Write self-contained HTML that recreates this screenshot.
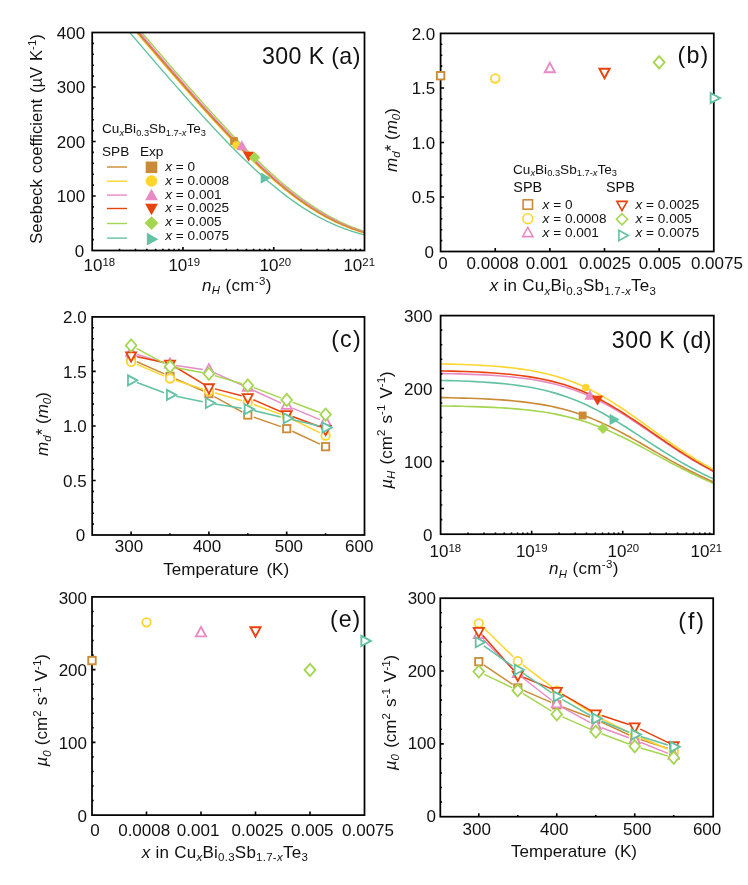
<!DOCTYPE html>
<html lang="en"><head><meta charset="utf-8"><title>Figure</title>
<style>html,body{margin:0;padding:0;background:#fff}svg{display:block}</style></head>
<body>
<svg width="748" height="885" viewBox="0 0 748 885" font-family='"Liberation Sans", sans-serif' fill="#111">
<rect width="748" height="885" fill="#fff"/>
<clipPath id="ca"><rect x="92.2" y="32.5" width="272.3" height="218"/></clipPath>
<g clip-path="url(#ca)" fill="none" stroke-width="1.35">
<polyline stroke="#62C2A3" points="100.58,-1.89 107.04,5.76 113.5,13.38 119.94,20.97 126.36,28.53 132.76,36.04 139.14,43.51 145.49,50.93 151.81,58.29 158.1,65.58 164.34,72.78 170.54,79.9 176.68,86.91 182.76,93.81 188.78,100.58 194.71,107.2 200.56,113.67 206.32,119.97 211.97,126.08 217.51,131.99 222.93,137.7 228.21,143.18 233.37,148.44 238.38,153.47 243.24,158.26 247.95,162.82 252.51,167.14 256.92,171.22 261.17,175.08 265.27,178.71 269.22,182.14 273.02,185.35 276.68,188.37 280.2,191.2 283.59,193.86 286.85,196.35 289.98,198.69 293,200.87 295.91,202.92 298.71,204.85 301.41,206.65 304.01,208.34 306.52,209.93 308.95,211.43 311.29,212.83 313.56,214.15 315.75,215.4 317.87,216.57 319.93,217.68 321.92,218.72 323.85,219.71 325.73,220.64 327.55,221.52 329.33,222.36 331.05,223.15 332.73,223.91 334.36,224.62 335.96,225.3 337.51,225.95 339.02,226.57 340.5,227.15 341.94,227.71 343.35,228.25 344.73,228.76 346.08,229.25 347.39,229.72 348.68,230.17 349.95,230.6 351.18,231.01 352.4,231.41 353.58,231.79 354.75,232.16 355.89,232.51 357.01,232.85 358.11,233.18 359.2,233.49 360.26,233.8 361.3,234.09 362.33,234.37 363.33,234.65 364.33,234.91 365.3,235.17 366.26,235.42 367.2,235.66 368.13,235.89 369.05,236.11 369.95,236.33 370.84,236.54 371.71,236.75 372.58,236.95 373.43,237.14 374.26,237.33 375.09,237.52 375.9,237.69 376.71,237.87 377.5,238.04 378.28,238.2 379.06,238.36 379.82,238.52 380.57,238.67 381.32,238.82 382.05,238.96 382.78,239.1 383.49,239.24 384.2,239.38 384.9,239.51 385.59,239.64 386.28,239.76 386.95,239.88 387.62,240 388.28,240.12 388.93,240.23 389.58,240.35 390.22,240.46 390.85,240.56 391.48,240.67 392.1,240.77 392.71,240.87 393.32,240.97 393.92,241.07"/>
<polyline stroke="#A5D651" points="112.63,-1.89 119.1,5.76 125.55,13.38 131.99,20.97 138.41,28.53 144.82,36.04 151.19,43.51 157.55,50.93 163.87,58.29 170.15,65.58 176.4,72.78 182.59,79.9 188.74,86.91 194.82,93.81 200.83,100.58 206.77,107.2 212.62,113.67 218.37,119.97 224.02,126.08 229.56,131.99 234.98,137.7 240.27,143.18 245.42,148.44 250.43,153.47 255.3,158.26 260.01,162.82 264.57,167.14 268.98,171.22 273.23,175.08 277.33,178.71 281.28,182.14 285.08,185.35 288.74,188.37 292.26,191.2 295.65,193.86 298.9,196.35 302.04,198.69 305.06,200.87 307.96,202.92 310.76,204.85 313.46,206.65 316.07,208.34 318.58,209.93 321,211.43 323.35,212.83 325.61,214.15 327.8,215.4 329.93,216.57 331.98,217.68 333.97,218.72 335.91,219.71 337.79,220.64 339.61,221.52 341.38,222.36 343.11,223.15 344.78,223.91 346.42,224.62 348.01,225.3 349.56,225.95 351.08,226.57 352.55,227.15 354,227.71 355.41,228.25 356.78,228.76 358.13,229.25 359.45,229.72 360.74,230.17 362,230.6 363.24,231.01 364.45,231.41 365.64,231.79 366.8,232.16 367.95,232.51 369.07,232.85 370.17,233.18 371.25,233.49 372.31,233.8 373.36,234.09 374.38,234.37 375.39,234.65 376.38,234.91 377.36,235.17 378.32,235.42 379.26,235.66 380.19,235.89 381.1,236.11 382.01,236.33 382.89,236.54 383.77,236.75 384.63,236.95 385.48,237.14 386.32,237.33 387.15,237.52 387.96,237.69 388.76,237.87 389.56,238.04 390.34,238.2 391.11,238.36 391.88,238.52 392.63,238.67 393.37,238.82 394.11,238.96"/>
<polyline stroke="#E8420D" points="109.56,-1.89 116.02,5.76 122.48,13.38 128.91,20.97 135.34,28.53 141.74,36.04 148.12,43.51 154.47,50.93 160.79,58.29 167.08,65.58 173.32,72.78 179.52,79.9 185.66,86.91 191.74,93.81 197.75,100.58 203.69,107.2 209.54,113.67 215.29,119.97 220.95,126.08 226.48,131.99 231.9,137.7 237.19,143.18 242.34,148.44 247.36,153.47 252.22,158.26 256.93,162.82 261.49,167.14 265.9,171.22 270.15,175.08 274.25,178.71 278.2,182.14 282,185.35 285.66,188.37 289.18,191.2 292.57,193.86 295.83,196.35 298.96,198.69 301.98,200.87 304.89,202.92 307.69,204.85 310.39,206.65 312.99,208.34 315.5,209.93 317.93,211.43 320.27,212.83 322.53,214.15 324.73,215.4 326.85,216.57 328.9,217.68 330.9,218.72 332.83,219.71 334.71,220.64 336.53,221.52 338.3,222.36 340.03,223.15 341.71,223.91 343.34,224.62 344.93,225.3 346.49,225.95 348,226.57 349.48,227.15 350.92,227.71 352.33,228.25 353.71,228.76 355.05,229.25 356.37,229.72 357.66,230.17 358.92,230.6 360.16,231.01 361.37,231.41 362.56,231.79 363.73,232.16 364.87,232.51 365.99,232.85 367.09,233.18 368.17,233.49 369.23,233.8 370.28,234.09 371.3,234.37 372.31,234.65 373.3,234.91 374.28,235.17 375.24,235.42 376.18,235.66 377.11,235.89 378.03,236.11 378.93,236.33 379.82,236.54 380.69,236.75 381.55,236.95 382.4,237.14 383.24,237.33 384.07,237.52 384.88,237.69 385.69,237.87 386.48,238.04 387.26,238.2 388.03,238.36 388.8,238.52 389.55,238.67 390.29,238.82 391.03,238.96 391.75,239.1 392.47,239.24 393.18,239.38 393.88,239.51"/>
<polyline stroke="#E88BC4" points="110.45,-1.89 116.91,5.76 123.37,13.38 129.8,20.97 136.23,28.53 142.63,36.04 149.01,43.51 155.36,50.93 161.68,58.29 167.97,65.58 174.21,72.78 180.41,79.9 186.55,86.91 192.63,93.81 198.64,100.58 204.58,107.2 210.43,113.67 216.19,119.97 221.84,126.08 227.38,131.99 232.79,137.7 238.08,143.18 243.24,148.44 248.25,153.47 253.11,158.26 257.82,162.82 262.38,167.14 266.79,171.22 271.04,175.08 275.14,178.71 279.09,182.14 282.89,185.35 286.55,188.37 290.07,191.2 293.46,193.86 296.72,196.35 299.85,198.69 302.87,200.87 305.78,202.92 308.58,204.85 311.28,206.65 313.88,208.34 316.39,209.93 318.82,211.43 321.16,212.83 323.42,214.15 325.62,215.4 327.74,216.57 329.79,217.68 331.79,218.72 333.72,219.71 335.6,220.64 337.42,221.52 339.2,222.36 340.92,223.15 342.6,223.91 344.23,224.62 345.82,225.3 347.38,225.95 348.89,226.57 350.37,227.15 351.81,227.71 353.22,228.25 354.6,228.76 355.94,229.25 357.26,229.72 358.55,230.17 359.82,230.6 361.05,231.01 362.26,231.41 363.45,231.79 364.62,232.16 365.76,232.51 366.88,232.85 367.98,233.18 369.06,233.49 370.13,233.8 371.17,234.09 372.19,234.37 373.2,234.65 374.19,234.91 375.17,235.17 376.13,235.42 377.07,235.66 378,235.89 378.92,236.11 379.82,236.33 380.71,236.54 381.58,236.75 382.44,236.95 383.29,237.14 384.13,237.33 384.96,237.52 385.77,237.69 386.58,237.87 387.37,238.04 388.15,238.2 388.93,238.36 389.69,238.52 390.44,238.67 391.18,238.82 391.92,238.96 392.64,239.1 393.36,239.24 394.07,239.38"/>
<polyline stroke="#FFD52E" points="107.36,-1.89 113.83,5.76 120.28,13.38 126.72,20.97 133.14,28.53 139.54,36.04 145.92,43.51 152.27,50.93 158.6,58.29 164.88,65.58 171.13,72.78 177.32,79.9 183.46,86.91 189.55,93.81 195.56,100.58 201.5,107.2 207.34,113.67 213.1,119.97 218.75,126.08 224.29,131.99 229.71,137.7 235,143.18 240.15,148.44 245.16,153.47 250.02,158.26 254.74,162.82 259.3,167.14 263.7,171.22 267.96,175.08 272.05,178.71 276,182.14 279.81,185.35 283.47,188.37 286.99,191.2 290.37,193.86 293.63,196.35 296.77,198.69 299.79,200.87 302.69,202.92 305.49,204.85 308.19,206.65 310.79,208.34 313.31,209.93 315.73,211.43 318.07,212.83 320.34,214.15 322.53,215.4 324.65,216.57 326.71,217.68 328.7,218.72 330.64,219.71 332.51,220.64 334.34,221.52 336.11,222.36 337.83,223.15 339.51,223.91 341.15,224.62 342.74,225.3 344.29,225.95 345.81,226.57 347.28,227.15 348.73,227.71 350.14,228.25 351.51,228.76 352.86,229.25 354.18,229.72 355.47,230.17 356.73,230.6 357.97,231.01 359.18,231.41 360.37,231.79 361.53,232.16 362.68,232.51 363.8,232.85 364.9,233.18 365.98,233.49 367.04,233.8 368.08,234.09 369.11,234.37 370.12,234.65 371.11,234.91 372.08,235.17 373.04,235.42 373.99,235.66 374.92,235.89 375.83,236.11 376.73,236.33 377.62,236.54 378.5,236.75 379.36,236.95 380.21,237.14 381.05,237.33 381.87,237.52 382.69,237.69 383.49,237.87 384.29,238.04 385.07,238.2 385.84,238.36 386.6,238.52 387.36,238.67 388.1,238.82 388.83,238.96 389.56,239.1 390.28,239.24 390.98,239.38 391.68,239.51 392.37,239.64 393.06,239.76 393.73,239.88 394.4,240"/>
<polyline stroke="#CB8B36" points="108.29,-1.89 114.75,5.76 121.21,13.38 127.64,20.97 134.07,28.53 140.47,36.04 146.85,43.51 153.2,50.93 159.52,58.29 165.81,65.58 172.05,72.78 178.25,79.9 184.39,86.91 190.47,93.81 196.48,100.58 202.42,107.2 208.27,113.67 214.02,119.97 219.68,126.08 225.21,131.99 230.63,137.7 235.92,143.18 241.07,148.44 246.08,153.47 250.95,158.26 255.66,162.82 260.22,167.14 264.63,171.22 268.88,175.08 272.98,178.71 276.93,182.14 280.73,185.35 284.39,188.37 287.91,191.2 291.3,193.86 294.56,196.35 297.69,198.69 300.71,200.87 303.62,202.92 306.42,204.85 309.12,206.65 311.72,208.34 314.23,209.93 316.65,211.43 319,212.83 321.26,214.15 323.46,215.4 325.58,216.57 327.63,217.68 329.63,218.72 331.56,219.71 333.44,220.64 335.26,221.52 337.03,222.36 338.76,223.15 340.44,223.91 342.07,224.62 343.66,225.3 345.22,225.95 346.73,226.57 348.21,227.15 349.65,227.71 351.06,228.25 352.44,228.76 353.78,229.25 355.1,229.72 356.39,230.17 357.65,230.6 358.89,231.01 360.1,231.41 361.29,231.79 362.46,232.16 363.6,232.51 364.72,232.85 365.82,233.18 366.9,233.49 367.96,233.8 369.01,234.09 370.03,234.37 371.04,234.65 372.03,234.91 373.01,235.17 373.97,235.42 374.91,235.66 375.84,235.89 376.76,236.11 377.66,236.33 378.55,236.54 379.42,236.75 380.28,236.95 381.13,237.14 381.97,237.33 382.8,237.52 383.61,237.69 384.42,237.87 385.21,238.04 385.99,238.2 386.76,238.36 387.53,238.52 388.28,238.67 389.02,238.82 389.76,238.96 390.48,239.1 391.2,239.24 391.91,239.38 392.61,239.51 393.3,239.64 393.98,239.76"/>
</g>
<rect x="230.1" y="137.1" width="7.8" height="7.8" fill="#CB8B36"/>
<circle cx="236.3" cy="145.2" r="3.9" fill="#FFD52E"/>
<polygon points="241.85,140.33 247.41,150.33 236.29,150.33" fill="#E88BC4"/>
<polygon points="248.6,161.77 254.16,151.77 243.04,151.77" fill="#E8420D"/>
<polygon points="254.6,151.75 260.25,157.4 254.6,163.06 248.94,157.4" fill="#A5D651"/>
<polygon points="270.67,178.1 260.67,172.54 260.67,183.66" fill="#62C2A3"/>
<rect x="92.2" y="32.5" width="272.3" height="218" fill="none" stroke="#000" stroke-width="1.75"/>
<path d="M92.2 196h3.5M92.2 141.5h3.5M92.2 87h3.5M92.2 239.6h1.7M92.2 228.7h1.7M92.2 217.8h1.7M92.2 206.9h1.7M92.2 185.1h1.7M92.2 174.2h1.7M92.2 163.3h1.7M92.2 152.4h1.7M92.2 130.6h1.7M92.2 119.7h1.7M92.2 108.8h1.7M92.2 97.9h1.7M92.2 76.1h1.7M92.2 65.2h1.7M92.2 54.3h1.7M92.2 43.4h1.7" stroke="#000" stroke-width="1.6" fill="none"/>
<path d="M182.97 250.5v-3.5M273.73 250.5v-3.5M119.52 250.5v-1.7M135.51 250.5v-1.7M146.85 250.5v-1.7M155.64 250.5v-1.7M162.83 250.5v-1.7M168.91 250.5v-1.7M174.17 250.5v-1.7M178.81 250.5v-1.7M210.29 250.5v-1.7M226.27 250.5v-1.7M237.61 250.5v-1.7M246.41 250.5v-1.7M253.6 250.5v-1.7M259.67 250.5v-1.7M264.94 250.5v-1.7M269.58 250.5v-1.7M301.06 250.5v-1.7M317.04 250.5v-1.7M328.38 250.5v-1.7M337.18 250.5v-1.7M344.36 250.5v-1.7M350.44 250.5v-1.7M355.7 250.5v-1.7M360.35 250.5v-1.7" stroke="#000" stroke-width="1.6" fill="none"/>
<text x="84.3" y="256.79" font-size="17" text-anchor="end" >0</text>
<text x="85.1" y="202.29" font-size="17" text-anchor="end" >100</text>
<text x="85.1" y="147.79" font-size="17" text-anchor="end" >200</text>
<text x="85.1" y="93.29" font-size="17" text-anchor="end" >300</text>
<text x="85.1" y="38.79" font-size="17" text-anchor="end" >400</text>
<text x="83.5" y="271.2" font-size="17" text-anchor="start" >10<tspan dy="-5" font-size="11.4">18</tspan></text>
<text x="168.4" y="271.2" font-size="17" text-anchor="start" >10<tspan dy="-5" font-size="11.4">19</tspan></text>
<text x="259.6" y="271.2" font-size="17" text-anchor="start" >10<tspan dy="-5" font-size="11.4">20</tspan></text>
<text x="343.4" y="271.2" font-size="17" text-anchor="start" >10<tspan dy="-5" font-size="11.4">21</tspan></text>
<text x="202" y="291.2" font-size="17" text-anchor="start" letter-spacing="0.35"><tspan font-style="italic">n</tspan><tspan dy="3.2" font-size="11.3" font-style="italic">H</tspan><tspan dy="-3.2"> (cm</tspan><tspan dy="-6.5" font-size="11.5">-3</tspan><tspan dy="6.5">)</tspan></text>
<text transform="translate(42 139) rotate(-90)" font-size="16.6" text-anchor="middle" word-spacing="1.3">Seebeck coefficient (µV K<tspan dy="-6.5" font-size="11.5">-1</tspan><tspan dy="6.5">)</tspan></text>
<text x="262.1" y="64.2" font-size="23.2" text-anchor="start" letter-spacing="0.36">300 K (a)</text>
<text x="102" y="133.2" font-size="13.6" text-anchor="start" >Cu<tspan dy="2.8" font-size="9.3" font-style="italic">x</tspan><tspan dy="-2.8">Bi</tspan><tspan dy="2.8" font-size="9.3">0.3</tspan><tspan dy="-2.8">Sb</tspan><tspan dy="2.8" font-size="9.3">1.7-</tspan><tspan font-size="9.3" font-style="italic">x</tspan><tspan dy="-2.8">Te</tspan><tspan dy="2.8" font-size="9.3">3</tspan></text>
<text x="102" y="156.2" font-size="13.6" text-anchor="start" >SPB</text>
<text x="140" y="156.2" font-size="13.6" text-anchor="start" >Exp</text>
<path d="M107 167h20" stroke="#CB8B36" stroke-width="1.4"/>
<rect x="145.7" y="161.5" width="11.6" height="11.6" fill="#CB8B36"/>
<text x="165.3" y="171.1" font-size="13.6" text-anchor="start" ><tspan font-style="italic">x</tspan> = 0</text>
<path d="M107 181.2h20" stroke="#FFD52E" stroke-width="1.4"/>
<circle cx="151.5" cy="181" r="5.8" fill="#FFD52E"/>
<text x="165.3" y="184.8" font-size="13.6" text-anchor="start" ><tspan font-style="italic">x</tspan> = 0.0008</text>
<path d="M107 195.1h20" stroke="#E88BC4" stroke-width="1.4"/>
<polygon points="151.5,188.84 157.88,200.33 145.12,200.33" fill="#E88BC4"/>
<text x="165.3" y="198.6" font-size="13.6" text-anchor="start" ><tspan font-style="italic">x</tspan> = 0.001</text>
<path d="M107 208.5h20" stroke="#E8420D" stroke-width="1.4"/>
<polygon points="151.5,215.16 157.88,203.67 145.12,203.67" fill="#E8420D"/>
<text x="165.3" y="212.3" font-size="13.6" text-anchor="start" ><tspan font-style="italic">x</tspan> = 0.0025</text>
<path d="M107 223.5h20" stroke="#A5D651" stroke-width="1.4"/>
<polygon points="151.5,216.14 158.46,223.1 151.5,230.06 144.54,223.1" fill="#A5D651"/>
<text x="165.3" y="225.9" font-size="13.6" text-anchor="start" ><tspan font-style="italic">x</tspan> = 0.005</text>
<path d="M107 238.1h20" stroke="#62C2A3" stroke-width="1.4"/>
<polygon points="158.36,239.2 146.87,232.82 146.87,245.58" fill="#62C2A3"/>
<text x="165.3" y="239.8" font-size="13.6" text-anchor="start" ><tspan font-style="italic">x</tspan> = 0.0075</text>
<rect x="440.6" y="33.4" width="273.2" height="218.1" fill="none" stroke="#000" stroke-width="1.75"/>
<path d="M440.6 196.97h3.5M440.6 142.45h3.5M440.6 87.93h3.5M440.6 240.59h1.7M440.6 229.69h1.7M440.6 218.78h1.7M440.6 207.88h1.7M440.6 186.07h1.7M440.6 175.17h1.7M440.6 164.26h1.7M440.6 153.36h1.7M440.6 131.54h1.7M440.6 120.64h1.7M440.6 109.73h1.7M440.6 98.83h1.7M440.6 77.02h1.7M440.6 66.12h1.7M440.6 55.21h1.7M440.6 44.31h1.7" stroke="#000" stroke-width="1.6" fill="none"/>
<path d="M495.24 251.5v-3.5M549.88 251.5v-3.5M604.52 251.5v-3.5M659.16 251.5v-3.5" stroke="#000" stroke-width="1.6" fill="none"/>
<rect x="436.87" y="71.99" width="7.45" height="7.45" fill="#fff" stroke="#CB8B36" stroke-width="1.9" stroke-linejoin="miter"/>
<circle cx="495.24" cy="78.44" r="4.28" fill="#fff" stroke="#FFD52E" stroke-width="1.9" stroke-linejoin="miter"/>
<polygon points="549.88,62.86 554.97,72.32 544.79,72.32" fill="#fff" stroke="#E88BC4" stroke-width="1.9" stroke-linejoin="miter"/>
<polygon points="604.52,78.2 609.61,68.74 599.43,68.74" fill="#fff" stroke="#E8420D" stroke-width="1.9" stroke-linejoin="miter"/>
<polygon points="659.16,56.12 664.58,62.3 659.16,68.47 653.74,62.3" fill="#fff" stroke="#A5D651" stroke-width="1.9" stroke-linejoin="miter"/>
<polygon points="720.11,98.07 710.64,92.98 710.64,103.16" fill="#fff" stroke="#62C2A3" stroke-width="1.9" stroke-linejoin="miter"/>
<text x="433.9" y="257.99" font-size="17" text-anchor="end" >0</text>
<text x="435.3" y="203.46" font-size="17" text-anchor="end" >0.5</text>
<text x="435.3" y="148.94" font-size="17" text-anchor="end" >1.0</text>
<text x="435.3" y="94.41" font-size="17" text-anchor="end" >1.5</text>
<text x="435.3" y="39.89" font-size="17" text-anchor="end" >2.0</text>
<text x="443" y="269.3" font-size="17" text-anchor="middle" >0</text>
<text x="492.6" y="269.3" font-size="17" text-anchor="middle" >0.0008</text>
<text x="547" y="269.3" font-size="17" text-anchor="middle" >0.001</text>
<text x="604.9" y="269.3" font-size="17" text-anchor="middle" >0.0025</text>
<text x="660" y="269.3" font-size="17" text-anchor="middle" >0.005</text>
<text x="716.9" y="269.3" font-size="17" text-anchor="middle" >0.0075</text>
<text x="573" y="291.1" font-size="17" text-anchor="middle" letter-spacing="0.25"><tspan font-style="italic">x</tspan> in Cu<tspan dy="3.4" font-size="11.5" font-style="italic">x</tspan><tspan dy="-3.4">Bi</tspan><tspan dy="3.4" font-size="11.5">0.3</tspan><tspan dy="-3.4">Sb</tspan><tspan dy="3.4" font-size="11.5">1.7-</tspan><tspan font-size="11.5" font-style="italic">x</tspan><tspan dy="-3.4">Te</tspan><tspan dy="3.4" font-size="11.5">3</tspan></text>
<text transform="translate(396.8 140) rotate(-90)" font-size="17" text-anchor="middle" ><tspan font-style="italic">m</tspan><tspan dy="3.2" font-size="11.5" font-style="italic">d</tspan><tspan dy="-3.2">* (</tspan><tspan font-style="italic">m</tspan><tspan dy="3.2" font-size="11.5" font-style="italic">0</tspan><tspan dy="-3.2">)</tspan></text>
<text x="677.6" y="63" font-size="23.2" text-anchor="start" letter-spacing="1.2">(b)</text>
<text x="513" y="173.5" font-size="13.6" text-anchor="start" >Cu<tspan dy="2.8" font-size="9.3" font-style="italic">x</tspan><tspan dy="-2.8">Bi</tspan><tspan dy="2.8" font-size="9.3">0.3</tspan><tspan dy="-2.8">Sb</tspan><tspan dy="2.8" font-size="9.3">1.7-</tspan><tspan font-size="9.3" font-style="italic">x</tspan><tspan dy="-2.8">Te</tspan><tspan dy="2.8" font-size="9.3">3</tspan></text>
<text x="513.3" y="191.5" font-size="14.4" text-anchor="start" >SPB</text>
<text x="606" y="191.5" font-size="14.4" text-anchor="start" >SPB</text>
<rect x="523.11" y="199.81" width="9.38" height="9.38" fill="#fff" stroke="#CB8B36" stroke-width="1.6" stroke-linejoin="miter"/>
<text x="542.6" y="209" font-size="13.6" text-anchor="start" ><tspan font-style="italic">x</tspan> = 0</text>
<circle cx="527.8" cy="218.7" r="4.9" fill="#fff" stroke="#FFD52E" stroke-width="1.6" stroke-linejoin="miter"/>
<text x="542.6" y="223.2" font-size="13.6" text-anchor="start" ><tspan font-style="italic">x</tspan> = 0.0008</text>
<polygon points="527.8,227.31 532.96,236.6 522.64,236.6" fill="#fff" stroke="#E88BC4" stroke-width="1.6" stroke-linejoin="miter"/>
<text x="542.6" y="237.4" font-size="13.6" text-anchor="start" ><tspan font-style="italic">x</tspan> = 0.001</text>
<polygon points="622,210.69 627.16,201.4 616.84,201.4" fill="#fff" stroke="#E8420D" stroke-width="1.6" stroke-linejoin="miter"/>
<text x="635.5" y="209" font-size="13.6" text-anchor="start" ><tspan font-style="italic">x</tspan> = 0.0025</text>
<polygon points="622,213.7 627.6,219.3 622,224.9 616.4,219.3" fill="#fff" stroke="#A5D651" stroke-width="1.6" stroke-linejoin="miter"/>
<text x="635.5" y="223.2" font-size="13.6" text-anchor="start" ><tspan font-style="italic">x</tspan> = 0.005</text>
<polygon points="628.2,235.5 618.9,230.34 618.9,240.66" fill="#fff" stroke="#62C2A3" stroke-width="1.6" stroke-linejoin="miter"/>
<text x="635.5" y="237.4" font-size="13.6" text-anchor="start" ><tspan font-style="italic">x</tspan> = 0.0075</text>
<path d="M136.77 361.71L164.33 373.83M175.67 378.84L203.23 391.05M214.33 396.56L242.37 412.05M253.65 417.1L280.85 426.63M292.33 431.28L319.97 444.07" stroke="#CB8B36" stroke-width="1.5" fill="none"/>
<rect x="127.43" y="355.54" width="7.34" height="7.34" fill="#fff" stroke="#CB8B36" stroke-width="1.8" stroke-linejoin="miter"/>
<rect x="166.33" y="372.66" width="7.34" height="7.34" fill="#fff" stroke="#CB8B36" stroke-width="1.8" stroke-linejoin="miter"/>
<rect x="205.23" y="389.89" width="7.34" height="7.34" fill="#fff" stroke="#CB8B36" stroke-width="1.8" stroke-linejoin="miter"/>
<rect x="244.13" y="411.37" width="7.34" height="7.34" fill="#fff" stroke="#CB8B36" stroke-width="1.8" stroke-linejoin="miter"/>
<rect x="283.03" y="425" width="7.34" height="7.34" fill="#fff" stroke="#CB8B36" stroke-width="1.8" stroke-linejoin="miter"/>
<rect x="321.93" y="443" width="7.34" height="7.34" fill="#fff" stroke="#CB8B36" stroke-width="1.8" stroke-linejoin="miter"/>
<path d="M136.8 364.37L164.3 376.08M175.9 380.42L203 389.15M214.85 392.79L241.85 400.66M253.63 404.5L280.87 414.35M292.26 419.21L320.04 432.91" stroke="#FFD52E" stroke-width="1.5" fill="none"/>
<circle cx="131.1" cy="361.94" r="4.22" fill="#fff" stroke="#FFD52E" stroke-width="1.8" stroke-linejoin="miter"/>
<circle cx="170" cy="378.51" r="4.22" fill="#fff" stroke="#FFD52E" stroke-width="1.8" stroke-linejoin="miter"/>
<circle cx="208.9" cy="391.05" r="4.22" fill="#fff" stroke="#FFD52E" stroke-width="1.8" stroke-linejoin="miter"/>
<circle cx="247.8" cy="402.4" r="4.22" fill="#fff" stroke="#FFD52E" stroke-width="1.8" stroke-linejoin="miter"/>
<circle cx="286.7" cy="416.46" r="4.22" fill="#fff" stroke="#FFD52E" stroke-width="1.8" stroke-linejoin="miter"/>
<circle cx="325.6" cy="435.66" r="4.22" fill="#fff" stroke="#FFD52E" stroke-width="1.8" stroke-linejoin="miter"/>
<path d="M137.03 354.48L164.07 362.74M176.13 365.47L202.77 369.42M214.56 372.86L242.14 385.15M253.42 390.29L281.08 403.16M292.42 408.17L319.88 419.63" stroke="#E88BC4" stroke-width="1.5" fill="none"/>
<polygon points="131.1,346.45 136.12,355.78 126.08,355.78" fill="#fff" stroke="#E88BC4" stroke-width="1.8" stroke-linejoin="miter"/>
<polygon points="170,358.34 175.01,367.66 164.99,367.66" fill="#fff" stroke="#E88BC4" stroke-width="1.8" stroke-linejoin="miter"/>
<polygon points="208.9,364.12 213.92,373.44 203.88,373.44" fill="#fff" stroke="#E88BC4" stroke-width="1.8" stroke-linejoin="miter"/>
<polygon points="247.8,381.45 252.81,390.78 242.79,390.78" fill="#fff" stroke="#E88BC4" stroke-width="1.8" stroke-linejoin="miter"/>
<polygon points="286.7,399.56 291.71,408.89 281.69,408.89" fill="#fff" stroke="#E88BC4" stroke-width="1.8" stroke-linejoin="miter"/>
<polygon points="325.6,415.81 330.62,425.13 320.59,425.13" fill="#fff" stroke="#E88BC4" stroke-width="1.8" stroke-linejoin="miter"/>
<path d="M137.16 356.7L163.94 362.48M175.3 367L203.6 384.13M214.91 388.88L241.79 395.74M253.48 399.75L281.02 411.8M292.5 416.48L319.8 426.81" stroke="#E8420D" stroke-width="1.5" fill="none"/>
<polygon points="131.1,361.61 136.12,352.29 126.08,352.29" fill="#fff" stroke="#E8420D" stroke-width="1.8" stroke-linejoin="miter"/>
<polygon points="170,370.01 175.01,360.68 164.99,360.68" fill="#fff" stroke="#E8420D" stroke-width="1.8" stroke-linejoin="miter"/>
<polygon points="208.9,393.56 213.92,384.24 203.88,384.24" fill="#fff" stroke="#E8420D" stroke-width="1.8" stroke-linejoin="miter"/>
<polygon points="247.8,403.49 252.81,394.16 242.79,394.16" fill="#fff" stroke="#E8420D" stroke-width="1.8" stroke-linejoin="miter"/>
<polygon points="286.7,420.5 291.71,411.17 281.69,411.17" fill="#fff" stroke="#E8420D" stroke-width="1.8" stroke-linejoin="miter"/>
<polygon points="325.6,435.22 330.62,425.89 320.59,425.89" fill="#fff" stroke="#E8420D" stroke-width="1.8" stroke-linejoin="miter"/>
<path d="M136.55 348.43L164.55 363.66M176.1 367.75L202.8 372.7M214.84 375.61L241.86 383.71M253.61 387.66L280.89 397.83M292.5 402.18L319.8 412.43" stroke="#A5D651" stroke-width="1.5" fill="none"/>
<polygon points="131.1,339.39 136.44,345.47 131.1,351.56 125.76,345.47" fill="#fff" stroke="#A5D651" stroke-width="1.8" stroke-linejoin="miter"/>
<polygon points="170,360.54 175.34,366.63 170,372.71 164.66,366.63" fill="#fff" stroke="#A5D651" stroke-width="1.8" stroke-linejoin="miter"/>
<polygon points="208.9,367.74 214.24,373.82 208.9,379.91 203.56,373.82" fill="#fff" stroke="#A5D651" stroke-width="1.8" stroke-linejoin="miter"/>
<polygon points="247.8,379.41 253.14,385.49 247.8,391.58 242.46,385.49" fill="#fff" stroke="#A5D651" stroke-width="1.8" stroke-linejoin="miter"/>
<polygon points="286.7,393.91 292.04,400 286.7,406.08 281.36,400" fill="#fff" stroke="#A5D651" stroke-width="1.8" stroke-linejoin="miter"/>
<polygon points="325.6,408.52 330.94,414.61 325.6,420.69 320.26,414.61" fill="#fff" stroke="#A5D651" stroke-width="1.8" stroke-linejoin="miter"/>
<path d="M136.91 382.53L164.19 392.7M176.07 396.15L202.83 401.77M215.02 404.01L241.68 408.19M253.83 410.58L280.67 416.9M292.73 419.74L319.57 426.06" stroke="#62C2A3" stroke-width="1.5" fill="none"/>
<polygon points="137.32,380.37 127.99,375.35 127.99,385.38" fill="#fff" stroke="#62C2A3" stroke-width="1.8" stroke-linejoin="miter"/>
<polygon points="176.22,394.87 166.89,389.86 166.89,399.89" fill="#fff" stroke="#62C2A3" stroke-width="1.8" stroke-linejoin="miter"/>
<polygon points="215.12,403.05 205.79,398.03 205.79,408.06" fill="#fff" stroke="#62C2A3" stroke-width="1.8" stroke-linejoin="miter"/>
<polygon points="254.02,409.16 244.69,404.14 244.69,414.17" fill="#fff" stroke="#62C2A3" stroke-width="1.8" stroke-linejoin="miter"/>
<polygon points="292.92,418.32 283.59,413.3 283.59,423.33" fill="#fff" stroke="#62C2A3" stroke-width="1.8" stroke-linejoin="miter"/>
<polygon points="331.82,427.48 322.49,422.46 322.49,432.49" fill="#fff" stroke="#62C2A3" stroke-width="1.8" stroke-linejoin="miter"/>
<rect x="92.2" y="316.9" width="272.3" height="218.1" fill="none" stroke="#000" stroke-width="1.75"/>
<path d="M92.2 480.48h3.5M92.2 425.95h3.5M92.2 371.42h3.5M92.2 524.1h1.7M92.2 513.19h1.7M92.2 502.28h1.7M92.2 491.38h1.7M92.2 469.57h1.7M92.2 458.66h1.7M92.2 447.76h1.7M92.2 436.86h1.7M92.2 415.04h1.7M92.2 404.14h1.7M92.2 393.24h1.7M92.2 382.33h1.7M92.2 360.52h1.7M92.2 349.62h1.7M92.2 338.71h1.7M92.2 327.8h1.7" stroke="#000" stroke-width="1.6" fill="none"/>
<path d="M131.1 535v-3.5M208.9 535v-3.5M286.7 535v-3.5M170 535v-1.7M247.8 535v-1.7M325.6 535v-1.7" stroke="#000" stroke-width="1.6" fill="none"/>
<text x="85.2" y="541.39" font-size="17" text-anchor="end" >0</text>
<text x="86.6" y="486.86" font-size="17" text-anchor="end" >0.5</text>
<text x="86.6" y="432.34" font-size="17" text-anchor="end" >1.0</text>
<text x="86.6" y="377.81" font-size="17" text-anchor="end" >1.5</text>
<text x="86.6" y="323.29" font-size="17" text-anchor="end" >2.0</text>
<text x="129" y="551.9" font-size="17" text-anchor="middle" >300</text>
<text x="207.1" y="551.9" font-size="17" text-anchor="middle" >400</text>
<text x="288.9" y="551.9" font-size="17" text-anchor="middle" >500</text>
<text x="359.3" y="551.9" font-size="17" text-anchor="middle" >600</text>
<text x="226.2" y="574.7" font-size="17" text-anchor="middle" word-spacing="3">Temperature (K)</text>
<text transform="translate(48 424) rotate(-90)" font-size="17" text-anchor="middle" ><tspan font-style="italic">m</tspan><tspan dy="3.2" font-size="11.5" font-style="italic">d</tspan><tspan dy="-3.2">* (</tspan><tspan font-style="italic">m</tspan><tspan dy="3.2" font-size="11.5" font-style="italic">0</tspan><tspan dy="-3.2">)</tspan></text>
<text x="331.2" y="347.4" font-size="23.2" text-anchor="start" letter-spacing="1.2">(c)</text>
<clipPath id="cd"><rect x="440.6" y="315.6" width="273.2" height="218.6"/></clipPath>
<g clip-path="url(#cd)" fill="none" stroke-width="1.6">
<polyline stroke="#A5D651" points="382.74,405.5 389.29,405.52 395.84,405.55 402.38,405.58 408.93,405.62 415.46,405.66 422,405.71 428.53,405.77 435.06,405.84 441.58,405.93 448.1,406.03 454.6,406.14 461.1,406.28 467.59,406.44 474.06,406.62 480.52,406.84 486.97,407.1 493.39,407.39 499.79,407.74 506.16,408.13 512.5,408.59 518.81,409.12 525.08,409.72 531.29,410.41 537.46,411.19 543.56,412.07 549.59,413.06 555.55,414.15 561.42,415.37 567.19,416.7 572.86,418.14 578.42,419.69 583.85,421.35 589.16,423.11 594.33,424.95 599.36,426.87 604.24,428.84 608.96,430.85 613.54,432.89 617.96,434.94 622.23,436.99 626.34,439.02 630.3,441.03 634.12,443 637.79,444.93 641.32,446.81 644.72,448.64 647.99,450.41 651.13,452.12 654.16,453.77 657.08,455.36 659.89,456.89 662.59,458.36 665.21,459.77 667.73,461.12 670.16,462.43 672.51,463.67 674.78,464.87 676.98,466.02 679.11,467.13 681.17,468.19 683.17,469.21 685.11,470.19 687,471.13 688.83,472.04 690.61,472.91 692.34,473.75 694.02,474.56 695.66,475.34 697.26,476.1 698.81,476.83 700.33,477.53 701.82,478.21 703.26,478.86 704.68,479.5 706.06,480.11 707.41,480.71 708.73,481.29 710.03,481.85 711.29,482.39 712.53,482.92 713.75,483.43 714.94,483.93 716.11,484.41 717.26,484.88 718.38,485.34 719.49,485.78 720.57,486.22 721.64,486.64 722.69,487.05 723.71,487.45 724.73,487.84 725.72,488.23 726.7,488.6 727.66,488.96 728.61,489.32 729.54,489.67 730.46,490.01 731.36,490.34 732.25,490.66 733.13,490.98 734,491.29 734.85,491.6 735.69,491.89 736.52,492.19 737.34,492.47 738.14,492.75 738.94,493.03 739.73,493.3 740.5,493.56 741.27,493.82 742.02,494.07 742.77,494.32 743.5,494.57"/>
<polyline stroke="#CB8B36" points="384.93,397.13 391.48,397.16 398.02,397.2 404.56,397.24 411.1,397.28 417.64,397.34 424.17,397.4 430.7,397.48 437.22,397.57 443.73,397.67 450.24,397.8 456.74,397.94 463.23,398.11 469.7,398.31 476.16,398.54 482.6,398.81 489.03,399.13 495.43,399.49 501.8,399.92 508.14,400.41 514.45,400.97 520.71,401.61 526.93,402.34 533.09,403.17 539.2,404.11 545.23,405.16 551.18,406.33 557.05,407.62 562.83,409.04 568.5,410.58 574.05,412.23 579.49,414 584.8,415.87 589.97,417.83 594.99,419.87 599.87,421.97 604.6,424.11 609.18,426.29 613.6,428.47 617.86,430.65 621.98,432.82 625.94,434.96 629.75,437.06 633.42,439.11 636.96,441.12 640.36,443.06 643.62,444.95 646.77,446.77 649.8,448.53 652.72,450.22 655.53,451.85 658.23,453.41 660.84,454.92 663.36,456.36 665.8,457.75 668.15,459.08 670.42,460.36 672.62,461.58 674.75,462.76 676.81,463.89 678.81,464.98 680.75,466.02 682.64,467.02 684.47,467.99 686.24,468.92 687.97,469.81 689.66,470.68 691.3,471.51 692.89,472.31 694.45,473.09 695.97,473.84 697.45,474.56 698.9,475.26 700.31,475.93 701.7,476.59 703.05,477.22 704.37,477.84 705.66,478.44 706.93,479.01 708.17,479.58 709.39,480.12 710.58,480.65 711.75,481.17 712.9,481.67 714.02,482.15 715.13,482.63 716.21,483.09 717.28,483.54 718.32,483.98 719.35,484.41 720.36,484.82 721.36,485.23 722.34,485.63 723.3,486.01 724.25,486.39 725.18,486.76 726.1,487.13 727,487.48 727.89,487.82 728.77,488.16 729.64,488.49 730.49,488.82 731.33,489.14 732.16,489.45 732.98,489.75 733.78,490.05 734.58,490.34 735.36,490.63 736.14,490.91 736.9,491.19 737.66,491.46 738.4,491.73 739.14,491.99 739.87,492.24 740.59,492.5 741.3,492.74 742,492.99 742.69,493.23 743.38,493.46"/>
<polyline stroke="#62C2A3" points="383.74,379.75 390.29,379.79 396.83,379.83 403.37,379.89 409.91,379.95 416.44,380.02 422.96,380.11 429.49,380.21 436,380.33 442.51,380.47 449.01,380.63 455.49,380.82 461.97,381.05 468.43,381.31 474.87,381.61 481.29,381.97 487.69,382.38 494.07,382.86 500.41,383.41 506.72,384.04 512.98,384.76 519.2,385.59 525.36,386.53 531.46,387.58 537.5,388.77 543.45,390.09 549.32,391.54 555.09,393.14 560.76,394.87 566.32,396.74 571.76,398.73 577.06,400.84 582.23,403.05 587.26,405.35 592.14,407.71 596.87,410.13 601.44,412.57 605.86,415.04 610.13,417.5 614.24,419.94 618.21,422.35 622.02,424.72 625.69,427.03 629.22,429.29 632.62,431.48 635.89,433.61 639.04,435.66 642.07,437.64 644.98,439.55 647.79,441.39 650.5,443.15 653.11,444.84 655.63,446.47 658.06,448.04 660.41,449.53 662.69,450.97 664.89,452.36 667.02,453.68 669.08,454.96 671.08,456.18 673.02,457.36 674.9,458.49 676.73,459.58 678.51,460.62 680.24,461.63 681.92,462.61 683.56,463.54 685.16,464.45 686.72,465.32 688.24,466.17 689.72,466.98 691.17,467.77 692.58,468.53 693.96,469.27 695.32,469.99 696.64,470.68 697.93,471.35 699.2,472 700.44,472.64 701.66,473.25 702.85,473.85 704.02,474.43 705.16,474.99 706.29,475.54 707.39,476.08 708.48,476.6 709.54,477.1 710.59,477.6 711.62,478.08 712.63,478.55 713.63,479.01 714.6,479.45 715.57,479.89 716.51,480.32 717.45,480.74 718.36,481.14 719.27,481.54 720.16,481.93 721.04,482.31 721.9,482.69 722.76,483.05 723.6,483.41 724.42,483.76 725.24,484.11 726.05,484.44 726.84,484.77 727.63,485.1 728.41,485.41 729.17,485.72 729.93,486.03 730.67,486.33 731.41,486.62 732.14,486.91 732.86,487.2 733.57,487.48 734.27,487.75 734.96,488.02 735.65,488.28 736.33,488.54 737,488.8 737.66,489.05 738.31,489.3 738.96,489.54 739.6,489.78 740.24,490.02 740.87,490.25 741.49,490.48 742.1,490.7 742.71,490.93 743.31,491.14"/>
<polyline stroke="#E88BC4" points="387.1,372.95 393.64,372.98 400.19,373.02 406.73,373.07 413.27,373.12 419.81,373.19 426.34,373.26 432.87,373.35 439.39,373.46 445.9,373.58 452.41,373.73 458.91,373.9 465.39,374.1 471.87,374.33 478.33,374.6 484.77,374.92 491.2,375.29 497.6,375.72 503.97,376.22 510.31,376.8 516.62,377.46 522.88,378.21 529.1,379.07 535.26,380.05 541.36,381.16 547.4,382.39 553.35,383.77 559.22,385.29 565,386.95 570.67,388.76 576.22,390.71 581.66,392.79 586.96,394.99 592.13,397.3 597.16,399.7 602.04,402.17 606.77,404.69 611.35,407.24 615.77,409.81 620.03,412.38 624.14,414.93 628.11,417.44 631.92,419.92 635.59,422.33 639.13,424.69 642.52,426.98 645.79,429.2 648.94,431.34 651.97,433.41 654.88,435.4 657.69,437.32 660.4,439.16 663.01,440.93 665.53,442.63 667.96,444.26 670.32,445.82 672.59,447.33 674.79,448.77 676.92,450.15 678.98,451.48 680.98,452.76 682.92,453.99 684.8,455.17 686.63,456.31 688.41,457.4 690.14,458.45 691.83,459.47 693.46,460.45 695.06,461.39 696.62,462.3 698.14,463.18 699.62,464.03 701.07,464.86 702.48,465.65 703.87,466.42 705.22,467.17 706.54,467.89 707.83,468.59 709.1,469.28 710.34,469.94 711.56,470.58 712.75,471.2 713.92,471.81 715.06,472.4 716.19,472.97 717.29,473.53 718.38,474.07 719.44,474.6 720.49,475.12 721.52,475.62 722.53,476.11 723.53,476.59 724.5,477.05 725.47,477.51 726.41,477.96 727.35,478.39 728.27,478.82 729.17,479.23 730.06,479.64 730.94,480.04 731.8,480.43 732.66,480.81 733.5,481.18 734.33,481.55 735.14,481.91 735.95,482.26 736.75,482.6 737.53,482.94 738.31,483.27 739.07,483.6 739.83,483.92 740.57,484.23 741.31,484.54 742.04,484.84 742.76,485.14 743.47,485.43"/>
<polyline stroke="#E8420D" points="386.2,370.37 392.75,370.4 399.3,370.44 405.84,370.49 412.38,370.54 418.91,370.61 425.44,370.69 431.97,370.78 438.49,370.89 445.01,371.01 451.52,371.16 458.01,371.33 464.5,371.54 470.98,371.77 477.44,372.05 483.88,372.37 490.3,372.75 496.7,373.19 503.07,373.69 509.42,374.28 515.72,374.95 521.99,375.72 528.2,376.59 534.37,377.59 540.47,378.71 546.5,379.96 552.46,381.36 558.33,382.9 564.1,384.59 569.77,386.43 575.33,388.41 580.76,390.53 586.07,392.76 591.24,395.11 596.27,397.54 601.15,400.05 605.88,402.62 610.45,405.21 614.87,407.82 619.14,410.43 623.25,413.02 627.21,415.58 631.03,418.09 634.7,420.54 638.23,422.94 641.63,425.26 644.9,427.52 648.05,429.69 651.07,431.8 653.99,433.82 656.8,435.77 659.51,437.64 662.12,439.44 664.64,441.16 667.07,442.82 669.42,444.41 671.69,445.94 673.89,447.4 676.02,448.81 678.09,450.16 680.09,451.46 682.03,452.7 683.91,453.9 685.74,455.06 687.52,456.17 689.25,457.24 690.93,458.27 692.57,459.27 694.17,460.23 695.73,461.15 697.24,462.05 698.73,462.91 700.18,463.75 701.59,464.56 702.97,465.34 704.32,466.1 705.65,466.83 706.94,467.55 708.21,468.24 709.45,468.91 710.66,469.56 711.86,470.19 713.02,470.81 714.17,471.41 715.3,471.99 716.4,472.56 717.49,473.11 718.55,473.65 719.6,474.17 720.63,474.68 721.64,475.18 722.63,475.67 723.61,476.14 724.57,476.6 725.52,477.06 726.45,477.5 727.37,477.93 728.28,478.35 729.17,478.77 730.04,479.17 730.91,479.57 731.76,479.96 732.6,480.34 733.43,480.71 734.25,481.07 735.06,481.43 735.85,481.78 736.64,482.12 737.41,482.46 738.18,482.79 738.93,483.11 739.68,483.43 740.42,483.74 741.14,484.05 741.86,484.35 742.57,484.65 743.27,484.94"/>
<polyline stroke="#FFD52E" points="384,363.27 390.55,363.31 397.09,363.35 403.64,363.4 410.18,363.46 416.71,363.53 423.24,363.61 429.77,363.7 436.29,363.81 442.81,363.94 449.31,364.1 455.81,364.28 462.3,364.49 468.77,364.74 475.23,365.03 481.68,365.37 488.1,365.76 494.5,366.21 500.87,366.74 507.22,367.35 513.52,368.05 519.79,368.85 526,369.77 532.17,370.8 538.27,371.97 544.3,373.28 550.26,374.74 556.13,376.35 561.9,378.12 567.57,380.03 573.13,382.1 578.56,384.31 583.87,386.64 589.04,389.08 594.07,391.63 598.95,394.24 603.67,396.92 608.25,399.62 612.67,402.35 616.94,405.07 621.05,407.77 625.01,410.44 628.83,413.06 632.5,415.62 636.03,418.12 639.43,420.55 642.7,422.9 645.84,425.17 648.87,427.36 651.79,429.47 654.6,431.5 657.31,433.46 659.92,435.33 662.44,437.13 664.87,438.86 667.22,440.52 669.49,442.11 671.69,443.64 673.82,445.11 675.88,446.52 677.88,447.87 679.82,449.18 681.71,450.43 683.54,451.63 685.32,452.79 687.05,453.91 688.73,454.98 690.37,456.02 691.97,457.02 693.52,457.99 695.04,458.92 696.53,459.82 697.97,460.7 699.39,461.54 700.77,462.36 702.12,463.15 703.44,463.92 704.74,464.66 706,465.38 707.25,466.08 708.46,466.76 709.65,467.42 710.82,468.06 711.97,468.69 713.09,469.3 714.2,469.89 715.28,470.46 716.35,471.02 717.4,471.57 718.42,472.1 719.44,472.62 720.43,473.13 721.41,473.63 722.37,474.11 723.32,474.58 724.25,475.04 725.17,475.49 726.07,475.94 726.97,476.37 727.84,476.79 728.71,477.2 729.56,477.61 730.4,478 731.23,478.39 732.05,478.77 732.85,479.14 733.65,479.51 734.44,479.87 735.21,480.22 735.98,480.56 736.73,480.9 737.48,481.23 738.21,481.56 738.94,481.88 739.66,482.19 740.37,482.5 741.07,482.8 741.77,483.1 742.45,483.39 743.13,483.68"/>
</g>
<rect x="579" y="411.9" width="7.2" height="7.2" fill="#CB8B36" stroke="#CB8B36" stroke-width="0.6" stroke-linejoin="miter"/>
<circle cx="585.8" cy="387.5" r="3.6" fill="#FFD52E" stroke="#FFD52E" stroke-width="0.6" stroke-linejoin="miter"/>
<polygon points="590,390.34 595.13,399.58 584.87,399.58" fill="#E88BC4" stroke="#E88BC4" stroke-width="0.6" stroke-linejoin="miter"/>
<polygon points="597.5,405.16 602.63,395.92 592.37,395.92" fill="#E8420D" stroke="#E8420D" stroke-width="0.6" stroke-linejoin="miter"/>
<polygon points="603,423.28 608.22,428.5 603,433.72 597.78,428.5" fill="#A5D651" stroke="#A5D651" stroke-width="0.6" stroke-linejoin="miter"/>
<polygon points="619.16,419.5 609.92,414.37 609.92,424.63" fill="#62C2A3" stroke="#62C2A3" stroke-width="0.6" stroke-linejoin="miter"/>
<rect x="440.6" y="315.6" width="273.2" height="218.6" fill="none" stroke="#000" stroke-width="1.75"/>
<path d="M440.6 461.33h3.5M440.6 388.47h3.5M440.6 519.63h1.7M440.6 505.05h1.7M440.6 490.48h1.7M440.6 475.91h1.7M440.6 446.76h1.7M440.6 432.19h1.7M440.6 417.61h1.7M440.6 403.04h1.7M440.6 373.89h1.7M440.6 359.32h1.7M440.6 344.75h1.7M440.6 330.17h1.7" stroke="#000" stroke-width="1.6" fill="none"/>
<path d="M531.67 534.2v-3.5M622.73 534.2v-3.5M468.01 534.2v-1.7M484.05 534.2v-1.7M495.43 534.2v-1.7M504.25 534.2v-1.7M511.46 534.2v-1.7M517.56 534.2v-1.7M522.84 534.2v-1.7M527.5 534.2v-1.7M559.08 534.2v-1.7M575.12 534.2v-1.7M586.49 534.2v-1.7M595.32 534.2v-1.7M602.53 534.2v-1.7M608.63 534.2v-1.7M613.91 534.2v-1.7M618.57 534.2v-1.7M650.15 534.2v-1.7M666.18 534.2v-1.7M677.56 534.2v-1.7M686.39 534.2v-1.7M693.6 534.2v-1.7M699.69 534.2v-1.7M704.97 534.2v-1.7M709.63 534.2v-1.7" stroke="#000" stroke-width="1.6" fill="none"/>
<text x="432.4" y="541.09" font-size="17" text-anchor="end" >0</text>
<text x="432.4" y="468.22" font-size="17" text-anchor="end" >100</text>
<text x="432.4" y="395.35" font-size="17" text-anchor="end" >200</text>
<text x="432.4" y="322.49" font-size="17" text-anchor="end" >300</text>
<text x="429.6" y="557.2" font-size="17" text-anchor="start" >10<tspan dy="-5" font-size="11.4">18</tspan></text>
<text x="515.9" y="557.2" font-size="17" text-anchor="start" >10<tspan dy="-5" font-size="11.4">19</tspan></text>
<text x="607.6" y="557.2" font-size="17" text-anchor="start" >10<tspan dy="-5" font-size="11.4">20</tspan></text>
<text x="690.6" y="557.2" font-size="17" text-anchor="start" >10<tspan dy="-5" font-size="11.4">21</tspan></text>
<text x="549" y="574.3" font-size="17" text-anchor="start" letter-spacing="0.35"><tspan font-style="italic">n</tspan><tspan dy="3.2" font-size="11.3" font-style="italic">H</tspan><tspan dy="-3.2"> (cm</tspan><tspan dy="-6.5" font-size="11.5">-3</tspan><tspan dy="6.5">)</tspan></text>
<text transform="translate(391.6 430) rotate(-90)" font-size="17" text-anchor="middle" word-spacing="1.5"><tspan font-style="italic">µ</tspan><tspan dy="3.2" font-size="11.5" font-style="italic">H</tspan><tspan dy="-3.2"> (cm</tspan><tspan dy="-6.5" font-size="11.5">2</tspan><tspan dy="6.5"> s</tspan><tspan dy="-6.5" font-size="11.5">-1</tspan><tspan dy="6.5"> V</tspan><tspan dy="-6.5" font-size="11.5">-1</tspan><tspan dy="6.5">)</tspan></text>
<text x="611.8" y="347.8" font-size="23.2" text-anchor="start" letter-spacing="0.55">300 K (d)</text>
<rect x="92" y="596.9" width="272.5" height="218.2" fill="none" stroke="#000" stroke-width="1.75"/>
<path d="M92 742.37h3.5M92 669.63h3.5M92 800.55h1.7M92 786.01h1.7M92 771.46h1.7M92 756.91h1.7M92 727.82h1.7M92 713.27h1.7M92 698.73h1.7M92 684.18h1.7M92 655.09h1.7M92 640.54h1.7M92 625.99h1.7M92 611.45h1.7" stroke="#000" stroke-width="1.6" fill="none"/>
<path d="M146.5 815.1v-3.5M201 815.1v-3.5M255.5 815.1v-3.5M310 815.1v-3.5" stroke="#000" stroke-width="1.6" fill="none"/>
<rect x="88.27" y="656.82" width="7.45" height="7.45" fill="#fff" stroke="#CB8B36" stroke-width="1.9" stroke-linejoin="miter"/>
<circle cx="146.5" cy="622.36" r="4.28" fill="#fff" stroke="#FFD52E" stroke-width="1.9" stroke-linejoin="miter"/>
<polygon points="201,626.96 206.09,636.42 195.91,636.42" fill="#fff" stroke="#E88BC4" stroke-width="1.9" stroke-linejoin="miter"/>
<polygon points="255.5,636.67 260.59,627.2 250.41,627.2" fill="#fff" stroke="#E8420D" stroke-width="1.9" stroke-linejoin="miter"/>
<polygon points="310,663.82 315.42,670 310,676.17 304.58,670" fill="#fff" stroke="#A5D651" stroke-width="1.9" stroke-linejoin="miter"/>
<polygon points="370.81,640.9 361.34,635.81 361.34,645.99" fill="#fff" stroke="#62C2A3" stroke-width="1.9" stroke-linejoin="miter"/>
<text x="87" y="821.79" font-size="17" text-anchor="end" >0</text>
<text x="87" y="749.05" font-size="17" text-anchor="end" >100</text>
<text x="87" y="676.32" font-size="17" text-anchor="end" >200</text>
<text x="87" y="603.59" font-size="17" text-anchor="end" >300</text>
<text x="94.9" y="835.7" font-size="17" text-anchor="middle" >0</text>
<text x="144.2" y="835.7" font-size="17" text-anchor="middle" >0.0008</text>
<text x="198.1" y="835.7" font-size="17" text-anchor="middle" >0.001</text>
<text x="257.5" y="835.7" font-size="17" text-anchor="middle" >0.0025</text>
<text x="312.3" y="835.7" font-size="17" text-anchor="middle" >0.005</text>
<text x="368" y="835.7" font-size="17" text-anchor="middle" >0.0075</text>
<text x="224.9" y="857.8" font-size="17" text-anchor="middle" letter-spacing="0.25"><tspan font-style="italic">x</tspan> in Cu<tspan dy="3.4" font-size="11.5" font-style="italic">x</tspan><tspan dy="-3.4">Bi</tspan><tspan dy="3.4" font-size="11.5">0.3</tspan><tspan dy="-3.4">Sb</tspan><tspan dy="3.4" font-size="11.5">1.7-</tspan><tspan font-size="11.5" font-style="italic">x</tspan><tspan dy="-3.4">Te</tspan><tspan dy="3.4" font-size="11.5">3</tspan></text>
<text transform="translate(47.3 710.3) rotate(-90)" font-size="17" text-anchor="middle" word-spacing="0.5"><tspan font-style="italic">µ</tspan><tspan dy="3.2" font-size="11.5" font-style="italic">0</tspan><tspan dy="-3.2"> (cm</tspan><tspan dy="-6.5" font-size="11.5">2</tspan><tspan dy="6.5"> s</tspan><tspan dy="-6.5" font-size="11.5">-1</tspan><tspan dy="6.5"> V</tspan><tspan dy="-6.5" font-size="11.5">-1</tspan><tspan dy="6.5">)</tspan></text>
<text x="330" y="627.2" font-size="23.2" text-anchor="start" letter-spacing="1">(e)</text>
<path d="M483.93 665.1L512.63 684.46M523.46 690.41L551.07 702.43M562.56 707.07L589.94 717.3M601.36 722.09L629.11 735.05M640.62 739.6L667.82 748.5" stroke="#CB8B36" stroke-width="1.5" fill="none"/>
<rect x="475.11" y="657.97" width="7.34" height="7.34" fill="#fff" stroke="#CB8B36" stroke-width="1.8" stroke-linejoin="miter"/>
<rect x="514.1" y="684.26" width="7.34" height="7.34" fill="#fff" stroke="#CB8B36" stroke-width="1.8" stroke-linejoin="miter"/>
<rect x="553.09" y="701.23" width="7.34" height="7.34" fill="#fff" stroke="#CB8B36" stroke-width="1.8" stroke-linejoin="miter"/>
<rect x="592.07" y="715.8" width="7.34" height="7.34" fill="#fff" stroke="#CB8B36" stroke-width="1.8" stroke-linejoin="miter"/>
<rect x="631.06" y="734" width="7.34" height="7.34" fill="#fff" stroke="#CB8B36" stroke-width="1.8" stroke-linejoin="miter"/>
<rect x="670.04" y="746.75" width="7.34" height="7.34" fill="#fff" stroke="#CB8B36" stroke-width="1.8" stroke-linejoin="miter"/>
<path d="M483.23 627.57L513.32 656.81M522.71 664.87L551.82 686.95M561.97 694.06L590.53 712.47M601.3 718.58L629.17 732.38M640.45 737.51L667.99 748.98" stroke="#FFD52E" stroke-width="1.5" fill="none"/>
<circle cx="478.79" cy="623.25" r="4.22" fill="#fff" stroke="#FFD52E" stroke-width="1.8" stroke-linejoin="miter"/>
<circle cx="517.77" cy="661.13" r="4.22" fill="#fff" stroke="#FFD52E" stroke-width="1.8" stroke-linejoin="miter"/>
<circle cx="556.76" cy="690.7" r="4.22" fill="#fff" stroke="#FFD52E" stroke-width="1.8" stroke-linejoin="miter"/>
<circle cx="595.74" cy="715.83" r="4.22" fill="#fff" stroke="#FFD52E" stroke-width="1.8" stroke-linejoin="miter"/>
<circle cx="634.73" cy="735.13" r="4.22" fill="#fff" stroke="#FFD52E" stroke-width="1.8" stroke-linejoin="miter"/>
<circle cx="673.71" cy="751.37" r="4.22" fill="#fff" stroke="#FFD52E" stroke-width="1.8" stroke-linejoin="miter"/>
<path d="M483.17 639.36L513.39 669.56M522.66 677.76L551.87 700.51M562.2 707.3L590.3 722.68M601.56 727.79L628.91 737.8M640.48 742.25L667.96 753.35" stroke="#E88BC4" stroke-width="1.5" fill="none"/>
<polygon points="478.79,628.76 483.8,638.09 473.77,638.09" fill="#fff" stroke="#E88BC4" stroke-width="1.8" stroke-linejoin="miter"/>
<polygon points="517.77,667.73 522.79,677.06 512.76,677.06" fill="#fff" stroke="#E88BC4" stroke-width="1.8" stroke-linejoin="miter"/>
<polygon points="556.76,698.1 561.77,707.43 551.74,707.43" fill="#fff" stroke="#E88BC4" stroke-width="1.8" stroke-linejoin="miter"/>
<polygon points="595.74,719.44 600.76,728.77 590.73,728.77" fill="#fff" stroke="#E88BC4" stroke-width="1.8" stroke-linejoin="miter"/>
<polygon points="634.73,733.72 639.74,743.04 629.71,743.04" fill="#fff" stroke="#E88BC4" stroke-width="1.8" stroke-linejoin="miter"/>
<polygon points="673.71,749.45 678.73,758.77 668.7,758.77" fill="#fff" stroke="#E88BC4" stroke-width="1.8" stroke-linejoin="miter"/>
<path d="M482.91 635.61L513.65 670.19M523.49 677.21L551.03 688.68M562.13 694.15L590.37 710.4M601.63 715.44L628.84 724.44M640.31 729.1L668.14 742.61" stroke="#E8420D" stroke-width="1.5" fill="none"/>
<polygon points="478.79,637.19 483.8,627.87 473.77,627.87" fill="#fff" stroke="#E8420D" stroke-width="1.8" stroke-linejoin="miter"/>
<polygon points="517.77,681.04 522.79,671.71 512.76,671.71" fill="#fff" stroke="#E8420D" stroke-width="1.8" stroke-linejoin="miter"/>
<polygon points="556.76,697.28 561.77,687.95 551.74,687.95" fill="#fff" stroke="#E8420D" stroke-width="1.8" stroke-linejoin="miter"/>
<polygon points="595.74,719.71 600.76,710.39 590.73,710.39" fill="#fff" stroke="#E8420D" stroke-width="1.8" stroke-linejoin="miter"/>
<polygon points="634.73,732.61 639.74,723.28 629.71,723.28" fill="#fff" stroke="#E8420D" stroke-width="1.8" stroke-linejoin="miter"/>
<polygon points="673.71,751.54 678.73,742.21 668.7,742.21" fill="#fff" stroke="#E8420D" stroke-width="1.8" stroke-linejoin="miter"/>
<path d="M484.37 674.31L512.19 687.72M523.05 693.65L551.48 711.12M562.43 716.88L590.07 729.12M601.55 733.8L628.92 744.03M640.67 747.95L667.77 755.95" stroke="#A5D651" stroke-width="1.5" fill="none"/>
<polygon points="478.79,665.53 484.12,671.62 478.79,677.7 473.45,671.62" fill="#fff" stroke="#A5D651" stroke-width="1.8" stroke-linejoin="miter"/>
<polygon points="517.77,684.32 523.11,690.41 517.77,696.49 512.43,690.41" fill="#fff" stroke="#A5D651" stroke-width="1.8" stroke-linejoin="miter"/>
<polygon points="556.76,708.28 562.1,714.37 556.76,720.45 551.42,714.37" fill="#fff" stroke="#A5D651" stroke-width="1.8" stroke-linejoin="miter"/>
<polygon points="595.74,725.55 601.08,731.63 595.74,737.72 590.4,731.63" fill="#fff" stroke="#A5D651" stroke-width="1.8" stroke-linejoin="miter"/>
<polygon points="634.73,740.11 640.07,746.2 634.73,752.28 629.39,746.2" fill="#fff" stroke="#A5D651" stroke-width="1.8" stroke-linejoin="miter"/>
<polygon points="673.71,751.62 679.05,757.71 673.71,763.79 668.38,757.71" fill="#fff" stroke="#A5D651" stroke-width="1.8" stroke-linejoin="miter"/>
<path d="M483.86 645.9L512.7 666.16M522.89 673.22L551.64 692.88M562.14 699.45L590.36 715.52M601.48 720.95L628.99 732.26M640.64 736.47L667.8 745" stroke="#62C2A3" stroke-width="1.5" fill="none"/>
<polygon points="485,642.34 475.68,637.32 475.68,647.35" fill="#fff" stroke="#62C2A3" stroke-width="1.8" stroke-linejoin="miter"/>
<polygon points="523.99,669.72 514.66,664.71 514.66,674.74" fill="#fff" stroke="#62C2A3" stroke-width="1.8" stroke-linejoin="miter"/>
<polygon points="562.98,696.38 553.65,691.36 553.65,701.39" fill="#fff" stroke="#62C2A3" stroke-width="1.8" stroke-linejoin="miter"/>
<polygon points="601.96,718.59 592.63,713.58 592.63,723.61" fill="#fff" stroke="#62C2A3" stroke-width="1.8" stroke-linejoin="miter"/>
<polygon points="640.95,734.62 631.62,729.6 631.62,739.63" fill="#fff" stroke="#62C2A3" stroke-width="1.8" stroke-linejoin="miter"/>
<polygon points="679.93,746.85 670.6,741.84 670.6,751.87" fill="#fff" stroke="#62C2A3" stroke-width="1.8" stroke-linejoin="miter"/>
<rect x="440.3" y="598.2" width="272.9" height="218.5" fill="none" stroke="#000" stroke-width="1.75"/>
<path d="M440.3 743.87h3.5M440.3 671.03h3.5M440.3 802.13h1.7M440.3 787.57h1.7M440.3 773h1.7M440.3 758.43h1.7M440.3 729.3h1.7M440.3 714.73h1.7M440.3 700.17h1.7M440.3 685.6h1.7M440.3 656.47h1.7M440.3 641.9h1.7M440.3 627.33h1.7M440.3 612.77h1.7" stroke="#000" stroke-width="1.6" fill="none"/>
<path d="M478.79 816.7v-3.5M556.76 816.7v-3.5M634.73 816.7v-3.5M517.77 816.7v-1.7M595.74 816.7v-1.7M673.71 816.7v-1.7" stroke="#000" stroke-width="1.6" fill="none"/>
<text x="436" y="822.29" font-size="17" text-anchor="end" >0</text>
<text x="436" y="749.45" font-size="17" text-anchor="end" >100</text>
<text x="436" y="676.62" font-size="17" text-anchor="end" >200</text>
<text x="436" y="603.79" font-size="17" text-anchor="end" >300</text>
<text x="476.7" y="835.3" font-size="17" text-anchor="middle" >300</text>
<text x="554.3" y="835.3" font-size="17" text-anchor="middle" >400</text>
<text x="637.2" y="835.3" font-size="17" text-anchor="middle" >500</text>
<text x="707.1" y="835.3" font-size="17" text-anchor="middle" >600</text>
<text x="574" y="857.3" font-size="17" text-anchor="middle" word-spacing="3">Temperature (K)</text>
<text transform="translate(396 712.5) rotate(-90)" font-size="17" text-anchor="middle" word-spacing="1.5"><tspan font-style="italic">µ</tspan><tspan dy="3.2" font-size="11.5" font-style="italic">0</tspan><tspan dy="-3.2"> (cm</tspan><tspan dy="-6.5" font-size="11.5">2</tspan><tspan dy="6.5"> s</tspan><tspan dy="-6.5" font-size="11.5">-1</tspan><tspan dy="6.5"> V</tspan><tspan dy="-6.5" font-size="11.5">-1</tspan><tspan dy="6.5">)</tspan></text>
<text x="678.2" y="629.2" font-size="23.2" text-anchor="start" letter-spacing="2">(f)</text>
</svg>
</body></html>
